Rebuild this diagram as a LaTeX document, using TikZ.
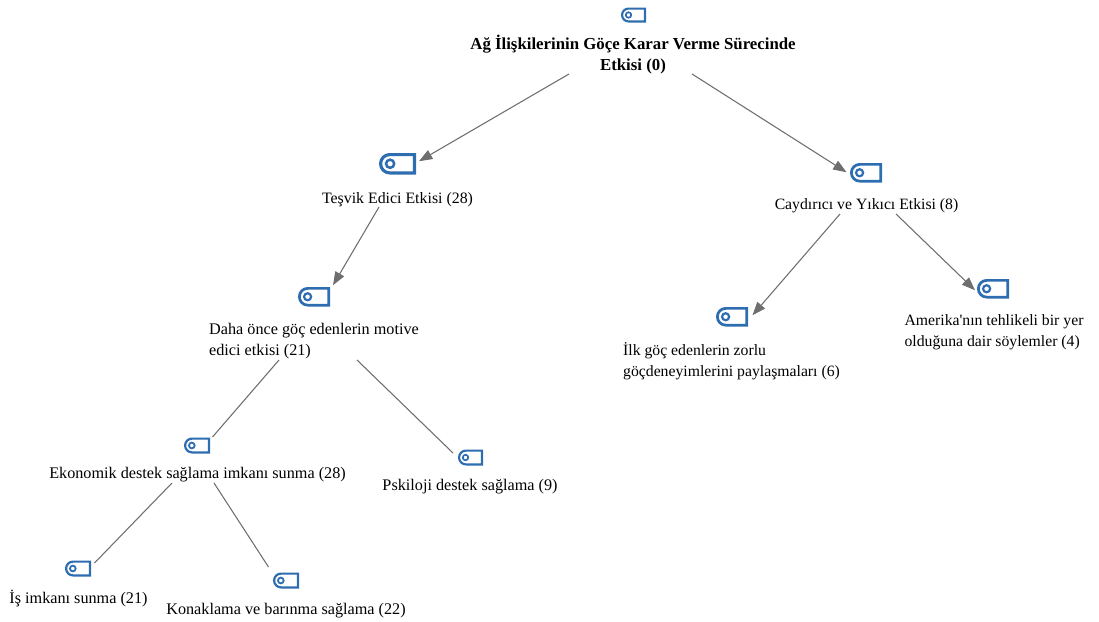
\documentclass[tikz,border=0pt]{standalone}
\usepackage{fontspec}
\setmainfont{Liberation Serif}
\newfontfamily\plainserif{Liberation Serif}
\usetikzlibrary{shapes.misc,arrows.meta}
\definecolor{tagblue}{HTML}{2E6DB0}
\definecolor{linkgray}{HTML}{6E6E6E}
\tikzset{
  label text/.style={inner sep=0pt,outer sep=0pt,font=\fontsize{12.15}{15.75}\selectfont,text=black},
  label small/.style={label text,font=\fontsize{11.8}{15.75}\selectfont},
  tag body/.style={rounded rectangle,rounded rectangle right arc=none,draw=tagblue,fill=white,inner sep=0pt,outer sep=0pt},
  tag hole/.style={circle,draw=tagblue,inner sep=0pt,outer sep=0pt},
  link/.style={draw=linkgray,line width=0.8pt},
  arrowlink/.style={link,-{Triangle[length=10pt,width=7.5pt,color=linkgray]}}
}
% name, x1, y1, x2, y2 in reference pixels
\newcommand{\tagicon}[5]{%
  \pgfmathsetmacro{\tw}{#4-#2}\pgfmathsetmacro{\th}{#5-#3}%
  \pgfmathsetmacro{\tlw}{\tw*0.085}%
  \node[tag body,line width=\tlw*0.75pt,minimum width=(\tw-\tlw)*0.75pt,minimum height=(\th-\tlw)*0.75pt] (#1) at ({(#2+#4)/2},{(#3+#5)/2}) {};%
  \node[tag hole,line width=\tlw*0.6pt,minimum size=\tw*0.22*0.75pt] (#1h) at ({#2+0.3*\tw},{(#3+#5)/2}) {};%
}
\begin{document}
\begin{tikzpicture}[x=0.75pt,y=-0.75pt]
\useasboundingbox (0,0) rectangle (1099,621);
\tagicon{i0}{621}{7.5}{646}{22.5}
\tagicon{i1}{379}{153}{416}{174.5}
\tagicon{i2}{850}{163}{882}{182.5}
\tagicon{i3}{298}{287}{330}{306.5}
\tagicon{i4}{716}{307}{748}{326.5}
\tagicon{i5}{977}{279}{1009}{298.5}
\tagicon{i6}{184}{437.5}{210}{453.5}
\tagicon{i7}{458}{449.5}{483}{465.5}
\tagicon{i8}{65}{560.5}{91}{576.5}
\tagicon{i9}{273}{572.5}{299}{588.5}
\node[label text,align=center,font=\fontsize{12.6}{15.75}\selectfont\bfseries] (t0) at (633,55) {Ağ İlişkilerinin Göçe Karar Verme Sürecinde\\Etkisi (0)};
\node[label text,font=\fontsize{11.9}{15.75}\selectfont] (t1) at (397.5,200) {Teşvik Edici Etkisi (28)};
\node[label small] (t2) at (866.5,206) {Caydırıcı ve Yıkıcı Etkisi (8)};
\node[label text,align=left] (t3) at (314,341) {Daha önce göç edenlerin motive\\edici etkisi (21)};
\node[label small,align=left] (t4) at (731.5,361) {İlk göç edenlerin zorlu\\göçdeneyimlerini paylaşmaları (6)};
\node[label small,align=left] (t5) at (994,332.5) {Amerika{\plainserif '}nın tehlikeli bir yer\\olduğuna dair söylemler (4)};
\node[label text] (t6) at (197.5,475) {Ekonomik destek sağlama imkanı sunma (28)};
\node[label text] (t7) at (470,487) {Pskiloji destek sağlama (9)};
\node[label text] (t8) at (78.5,599) {İş imkanı sunma (21)};
\node[label text] (t9) at (286,611) {Konaklama ve barınma sağlama (22)};
\draw[arrowlink] ([shift={(-64,19)}]t0.center) -- ([shift={(21.5,-2.5)}]i1.center);
\draw[arrowlink] ([shift={(59,19)}]t0.center) -- ([shift={(-19.5,-.5)}]i2.center);
\draw[arrowlink] ([shift={(-18.5,7)}]t1.center) -- ([shift={(19,-11.5)}]i3.center);
\draw[arrowlink] ([shift={(-26.5,8)}]t2.center) -- ([shift={(20.5,-1.5)}]i4.center);
\draw[arrowlink] ([shift={(29.5,8)}]t2.center) -- ([shift={(-18,1.5)}]i5.center);
\draw[link] ([shift={(-35,19)}]t3.center) -- ([shift={(15.5,-8.5)}]i6.center);
\draw[link] ([shift={(43,19)}]t3.center) -- ([shift={(-17.5,-4.5)}]i7.center);
\draw[link] ([shift={(-25.5,8)}]t6.center) -- ([shift={(16.5,-5.5)}]i8.center);
\draw[link] ([shift={(16.5,8)}]t6.center) -- ([shift={(-17.5,-13.5)}]i9.center);
\end{tikzpicture}
\end{document}
